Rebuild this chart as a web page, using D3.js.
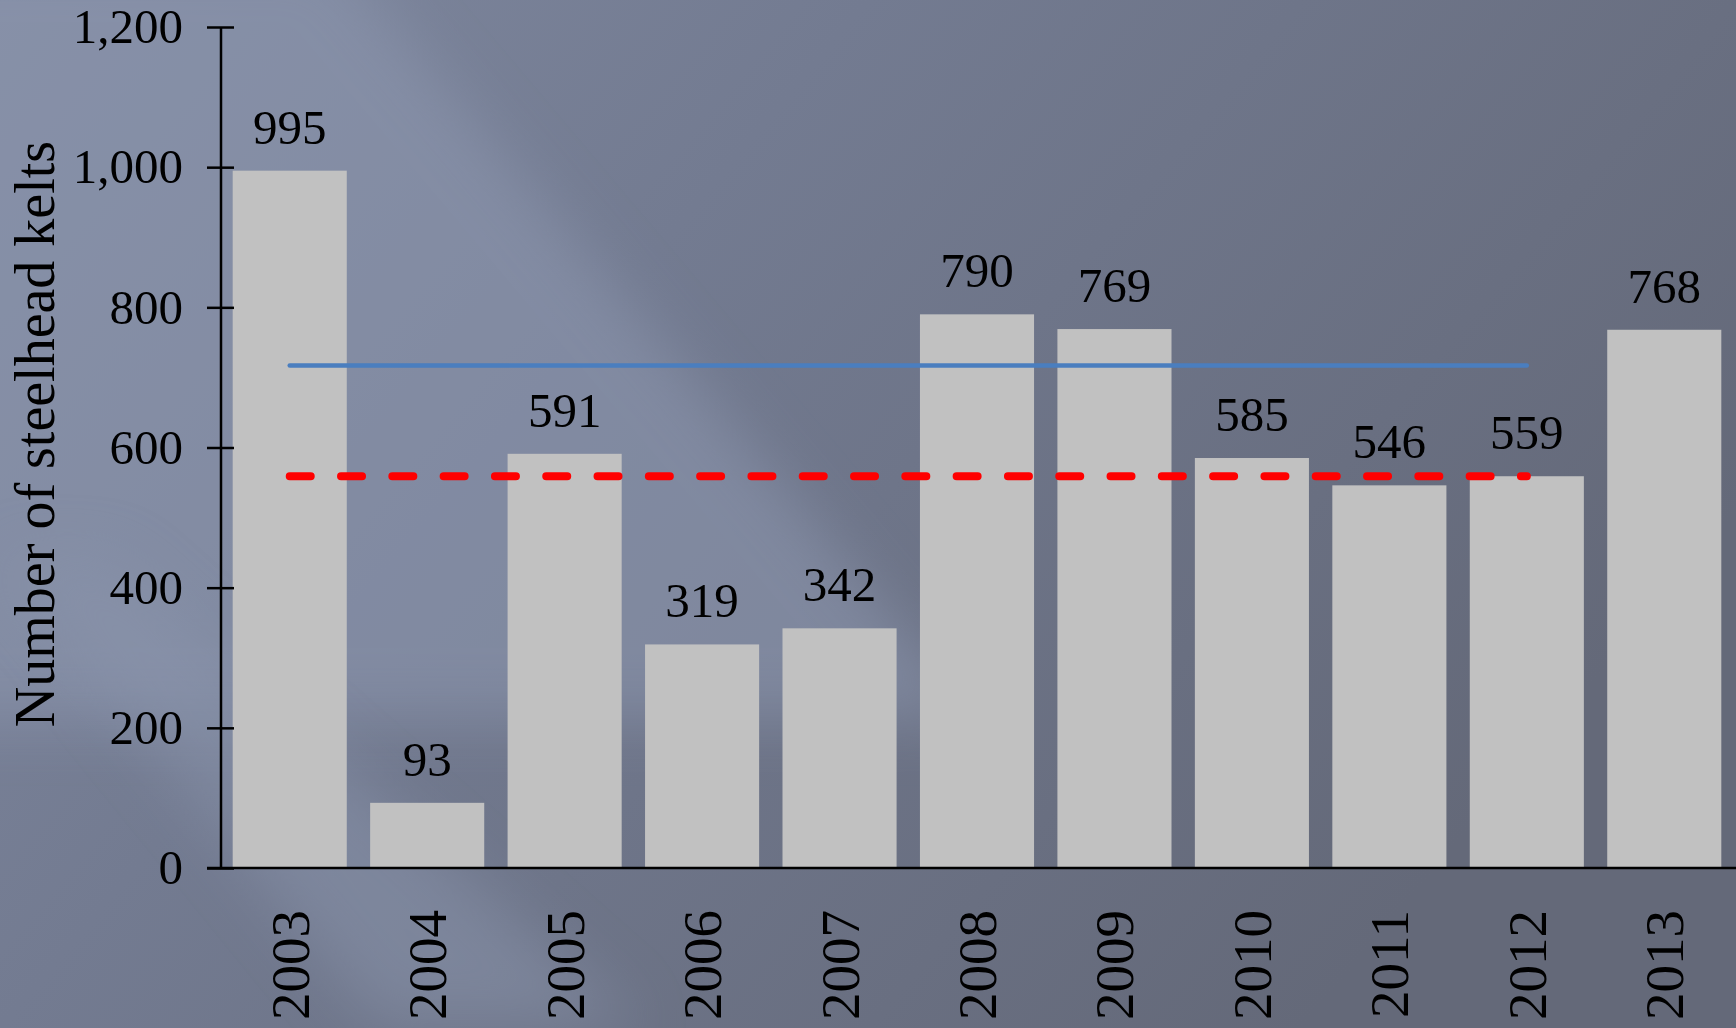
<!DOCTYPE html>
<html>
<head>
<meta charset="utf-8">
<title>Steelhead kelts</title>
<script src="https://d3js.org/d3.v7.min.js"></script>
<style>
  body { margin: 0; overflow: hidden; }
  svg { display: block; }
</style>
</head>
<body>
<script>
// Données
var years = ["2003", "2004", "2005", "2006", "2007", "2008", "2009", "2010", "2011", "2012", "2013"];
var kelts = [995, 93, 591, 319, 342, 790, 769, 585, 546, 559, 768];
var yTicks = [0, 200, 400, 600, 800, 1000, 1200];
var lineYears = ["2003", "2012"];
var blueLevel = 717;
var meanLevel = 559;

var width = 1736, height = 1028;
var svg = d3.select("body").append("svg")
    .attr("width", width)
    .attr("height", height);

// fond dégradé
var defs = svg.append("defs");
var bg = defs.append("linearGradient").attr("id", "bg")
    .attr("x1", "0").attr("y1", "0").attr("x2", "1").attr("y2", "0.5");
bg.append("stop").attr("offset", "0").attr("stop-color", "#7f889f");
bg.append("stop").attr("offset", "0.4").attr("stop-color", "#737b91");
bg.append("stop").attr("offset", "1").attr("stop-color", "#646979");

defs.append("filter").attr("id", "blur")
    .attr("x", "-50%").attr("y", "-50%").attr("width", "200%").attr("height", "200%")
    .append("feGaussianBlur").attr("stdDeviation", 30);

svg.append("rect").attr("width", width).attr("height", height).attr("fill", "url(#bg)");
// reflets diagonaux
svg.append("polygon")
    .attr("points", "-100,-50 330,-50 980,720 -100,720")
    .attr("fill", "#8e98b0").attr("opacity", 0.55)
    .attr("filter", "url(#blur)");
svg.append("polygon")
    .attr("points", "0,560 110,560 640,1028 380,1028")
    .attr("fill", "#8a94ac").attr("opacity", 0.5)
    .attr("filter", "url(#blur)");

var x = d3.scaleBand()
    .domain(years)
    .range([221, 1733])
    .paddingInner(0.17)
    .paddingOuter(0.085);

var y = d3.scaleLinear()
    .domain([0, 1200])
    .range([868, 27]);

var font = "'Liberation Serif', 'Times New Roman', serif";

// barres
svg.selectAll("rect.bar")
    .data(kelts)
    .enter()
    .append("rect")
    .attr("class", "bar")
    .attr("x", function(d, i) { return x(years[i]); })
    .attr("y", function(d) { return y(d); })
    .attr("width", x.bandwidth())
    .attr("height", function(d) { return y(0) - y(d); })
    .attr("fill", "#c1c1c1");

// étiquettes des valeurs
svg.selectAll("text.val")
    .data(kelts)
    .enter()
    .append("text")
    .attr("class", "val")
    .attr("x", function(d, i) { return x(years[i]) + x.bandwidth() / 2; })
    .attr("y", function(d) { return y(d) - 27; })
    .attr("text-anchor", "middle")
    .style("font-family", font)
    .style("font-size", "49px")
    .attr("fill", "#000")
    .text(function(d) { return d; });

// lignes horizontales
var cx = function(yr) { return x(yr) + x.bandwidth() / 2; };
svg.append("line")
    .attr("x1", cx(lineYears[0])).attr("x2", cx(lineYears[1]))
    .attr("y1", y(blueLevel)).attr("y2", y(blueLevel))
    .attr("stroke", "#4a7ebf").attr("stroke-width", 4.5)
    .attr("stroke-linecap", "round");
svg.append("line")
    .attr("x1", cx(lineYears[0])).attr("x2", cx(lineYears[1]))
    .attr("y1", y(meanLevel)).attr("y2", y(meanLevel))
    .attr("stroke", "#ff0000").attr("stroke-width", 8)
    .attr("stroke-dasharray", "21,30.3")
    .attr("stroke-linecap", "round");

// axe Y
var yAxis = svg.append("g")
    .attr("transform", "translate(221,0)")
    .call(d3.axisLeft(y).tickValues(yTicks).tickSize(14).tickPadding(24)
        .tickFormat(d3.format(",")));
yAxis.selectAll("line").clone(true).attr("x2", 13);
yAxis.select(".domain").remove();
yAxis.append("line").attr("x1", 0).attr("x2", 0)
    .attr("y1", y(1200)).attr("y2", y(0))
    .attr("stroke", "#000").attr("stroke-width", 2.5);
yAxis.selectAll("line").attr("stroke", "#000").attr("stroke-width", 2.5);
yAxis.selectAll("text")
    .style("font-family", font)
    .style("font-size", "49px")
    .attr("fill", "#000");

// axe X
svg.append("line")
    .attr("x1", 207).attr("x2", width)
    .attr("y1", y(0)).attr("y2", y(0))
    .attr("stroke", "#000").attr("stroke-width", 2.5);

svg.selectAll("text.year")
    .data(years)
    .enter()
    .append("text")
    .attr("class", "year")
    .attr("transform", function(d) {
        return "translate(" + (x(d) + x.bandwidth() / 2 + 19) + "," + 910 + ") rotate(-90)";
    })
    .attr("text-anchor", "end")
    .style("font-family", font)
    .style("font-size", "55px")
    .attr("fill", "#000")
    .text(function(d) { return d; });

// titre de l'axe Y
svg.append("text")
    .attr("transform", "translate(54,434) rotate(-90)")
    .attr("text-anchor", "middle")
    .style("font-family", font)
    .style("font-size", "56px")
    .attr("fill", "#000")
    .text("Number of steelhead kelts");
</script>
</body>
</html>
